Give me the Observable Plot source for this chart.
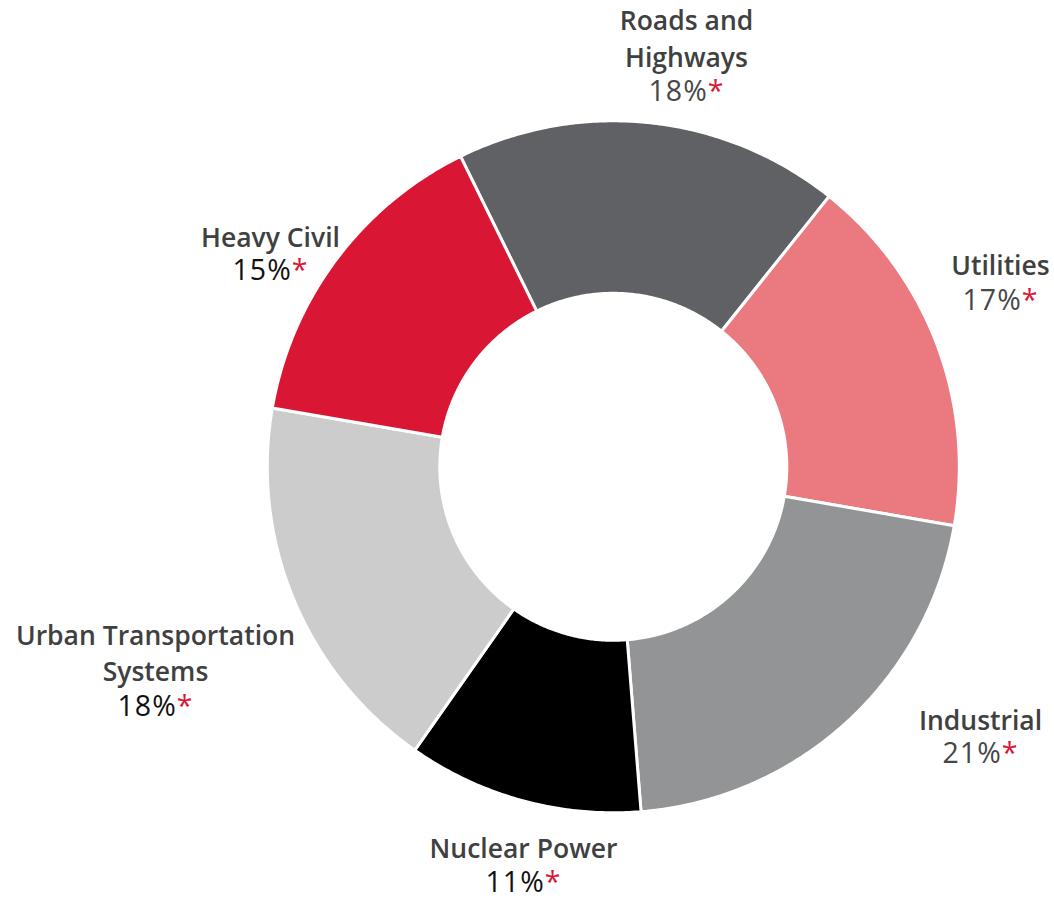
<!DOCTYPE html>
<html>
<head>
<meta charset="utf-8">
<script src="https://cdn.jsdelivr.net/npm/d3@7"></script>
<script src="https://cdn.jsdelivr.net/npm/@observablehq/plot@0.6"></script>
<style>
  html, body { margin: 0; padding: 0; background: #fff; }
  #chart { width: 1054px; height: 899px; }
</style>
</head>
<body>
<div id="chart"></div>
<script>
// ---- data ----
const categories = ["Roads and Highways", "Utilities", "Industrial", "Nuclear Power", "Urban Transportation Systems", "Heavy Civil"];
const shares = [18, 17, 21, 11, 18, 15];
const nameLines = ["Roads and\nHighways", "Utilities", "Industrial", "Nuclear Power", "Urban Transportation\nSystems", "Heavy Civil"];
const colors = ["#606165", "#eb7a80", "#939495", "#000000", "#cccccc", "#d91734"];

// ---- layout ----
const W = 1054, H = 899;
const cx = 612.8, cy = 466.3;          // pixel centre of donut
const rOuter = 346, rInner = 173.5;
const startDeg = -26.2;                 // clockwise from north
// label anchor positions (pixel space) and percent colours
const labelLayout = [
  {x: 686, nameY: 36.5, pctY: 91, pctColor: "#474747"},
  {x: 1000, nameY: 263, pctY: 300, pctColor: "#474747"},
  {x: 980, nameY: 718, pctY: 753, pctColor: "#474747"},
  {x: 523, nameY: 846, pctY: 882, pctColor: "#111111"},
  {x: 155, nameY: 651, pctY: 706, pctColor: "#111111"},
  {x: 270, nameY: 235, pctY: 270, pctColor: "#111111"}
];

const total = d3.sum(shares);
let acc = 0;
const slices = categories.map((c, i) => {
  const a0 = startDeg + acc / total * 360;
  acc += shares[i];
  const a1 = startDeg + acc / total * 360;
  return {category: c, share: shares[i], a0, a1, i};
});

// polygon points in pixel-unit data space (x right, y up from centre)
const pts = [];
for (const s of slices) {
  const n = Math.max(8, Math.ceil((s.a1 - s.a0) * 2));
  const toXY = (deg, r) => {
    const t = deg * Math.PI / 180;
    return [r * Math.sin(t), r * Math.cos(t)];
  };
  for (let k = 0; k <= n; k++) {
    const a = s.a0 + (s.a1 - s.a0) * k / n;
    const [x, y] = toXY(a, rOuter);
    pts.push({category: s.category, x, y});
  }
  for (let k = n; k >= 0; k--) {
    const a = s.a0 + (s.a1 - s.a0) * k / n;
    const [x, y] = toXY(a, rInner);
    pts.push({category: s.category, x, y});
  }
  const [x0, y0] = toXY(s.a0, rOuter);
  pts.push({category: s.category, x: x0, y: y0});
}

const labels = slices.map((s, i) => ({
  category: s.category,
  name: nameLines[i],
  pct: `${s.share}%*`,
  x: labelLayout[i].x - cx,
  nameY: cy - labelLayout[i].nameY,
  pctY: cy - labelLayout[i].pctY,
  pctColor: labelLayout[i].pctColor
}));

const chart = Plot.plot({
  width: W,
  height: H,
  margin: 0,
  style: {background: "#fff", overflow: "visible"},
  x: {domain: [-cx, W - cx], axis: null},
  y: {domain: [cy - H, cy], axis: null},
  color: {domain: categories, range: colors},
  marks: [
    Plot.line(pts, {x: "x", y: "y", z: "category", fill: "category", stroke: "#fff", strokeWidth: 3, curve: "linear"}),
    Plot.text(labels, {x: "x", y: "nameY", text: "name", fill: "#404040", fontSize: 26.5, fontWeight: 600,
      fontFamily: "Open Sans", lineHeight: 1.37, lineAnchor: "middle", textAnchor: "middle"}),
    Plot.text(labels, {x: "x", y: "pctY", text: "pct", fill: "pctColor", fontSize: 28.5, fontWeight: 400,
      fontFamily: "Open Sans", lineAnchor: "middle", textAnchor: "middle"})
  ]
});

// style the trailing asterisk in red
d3.select(chart).selectAll("text").each(function () {
  const t = this.textContent;
  if (this.childElementCount === 0 && /%\*$/.test(t)) {
    this.textContent = t.slice(0, -1);
    this.setAttribute("letter-spacing", "1");
    const ts = document.createElementNS("http://www.w3.org/2000/svg", "tspan");
    ts.setAttribute("fill", "#d91734");
    ts.textContent = "*";
    this.appendChild(ts);
  }
});

document.getElementById("chart").appendChild(chart);
</script>
</body>
</html>
